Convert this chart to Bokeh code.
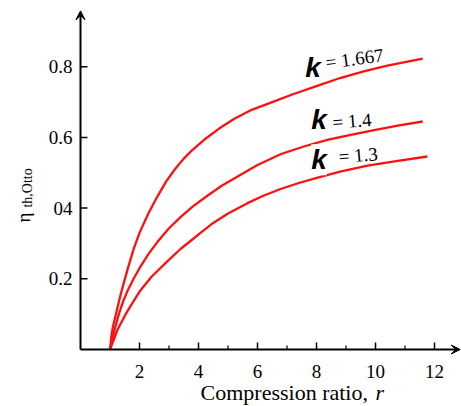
from bokeh.plotting import figure
from bokeh.models import Label, Arrow, VeeHead
from bokeh.core.properties import value
from bokeh.embed import file_html
from bokeh.resources import INLINE
import math

# Data
r_k1667 = [1.0, 1.05, 1.1, 1.2, 1.3, 1.4, 1.6, 1.8, 2.0, 2.3, 2.6, 2.9, 3.2, 3.5, 3.8, 4.2, 4.7,
           5.2, 5.8, 6.5, 7.2, 8.0, 8.8, 9.6, 10.4, 11.0, 11.6]
eta_k1667 = [0.0, 0.04, 0.065, 0.10, 0.135, 0.168, 0.228, 0.284, 0.33, 0.385, 0.432, 0.475, 0.51,
             0.54, 0.565, 0.594, 0.625, 0.652, 0.678, 0.70, 0.722, 0.745, 0.768, 0.787, 0.803,
             0.813, 0.823]

r_k14 = [1.0, 1.15, 1.3, 1.45, 1.6, 1.8, 2.0, 2.3, 2.64, 3.0, 3.4, 3.8, 4.3, 4.8, 5.4, 6.0,
         6.8, 7.6, 8.4, 9.2, 10.0, 10.8, 11.6]
eta_k14 = [0.0, 0.055, 0.10, 0.137, 0.167, 0.20, 0.23, 0.27, 0.308, 0.343, 0.375, 0.404, 0.435,
           0.464, 0.493, 0.522, 0.553, 0.575, 0.594, 0.608, 0.621, 0.634, 0.645]

r_k13 = [1.0, 1.25, 1.53, 1.8, 2.03, 2.4, 2.95, 3.4, 3.73, 4.1, 4.5, 5.0, 5.66, 6.2, 6.78,
         7.4, 8.07, 8.8, 9.73, 10.7, 11.76]
eta_k13 = [0.0, 0.055, 0.10, 0.137, 0.167, 0.205, 0.25, 0.285, 0.307, 0.332, 0.358, 0.385,
           0.414, 0.435, 0.454, 0.471, 0.487, 0.503, 0.52, 0.533, 0.546]

x_ticks = [2, 4, 6, 8, 10, 12]
x_minor = [3, 5, 7, 9, 11]
x_tick_labels = ["2", "4", "6", "8", "10", "12"]
y_ticks = [0.2, 0.4, 0.6, 0.8]
y_tick_labels = ["0.2", "04", "0.6", "0.8"]

SERIF = "'Liberation Serif', serif"

W, H = 461, 406
X0, X1 = -2.712, 12.915      # plot spans the whole canvas
Y0, Y1 = -0.1612, 0.9873
PX = W / (X1 - X0)           # pixels per x unit
PY = H / (Y1 - Y0)           # pixels per y unit

p = figure(width=W, height=H, output_backend="svg", toolbar_location=None,
           x_range=(X0, X1), y_range=(Y0, Y1),
           min_border=0, min_border_left=0, min_border_right=0,
           min_border_top=0, min_border_bottom=0)
p.axis.visible = False
p.outline_line_color = None
p.xgrid.visible = False
p.ygrid.visible = False
p.background_fill_color = "white"
p.border_fill_color = "white"

for xs, ys in [(r_k1667, eta_k1667), (r_k14, eta_k14), (r_k13, eta_k13)]:
    p.line(xs, ys, line_color="#ff1010", line_width=2.3, line_join="round")

# axis lines with arrow heads
p.add_layout(Arrow(end=VeeHead(size=9, fill_color="black", line_color="black"),
                   x_start=0, y_start=0, x_end=0, y_end=0.958,
                   line_color="black", line_width=2))
p.add_layout(Arrow(end=VeeHead(size=9, fill_color="black", line_color="black"),
                   x_start=0, y_start=0, x_end=12.87, y_end=0,
                   line_color="black", line_width=2))

# tick marks (pointing inwards)
p.segment(x0=x_ticks, y0=[0] * len(x_ticks), x1=x_ticks, y1=[7 / PY] * len(x_ticks),
          line_color="black", line_width=1.5)
p.segment(x0=x_minor, y0=[0] * len(x_minor), x1=x_minor, y1=[4 / PY] * len(x_minor),
          line_color="black", line_width=1.2)
p.segment(x0=[0] * len(y_ticks), y0=y_ticks, x1=[7 / PX] * len(y_ticks), y1=y_ticks,
          line_color="black", line_width=1.5)

# tick labels
p.text(x=x_ticks, y=-22 / PY, text=x_tick_labels, text_font=value(SERIF),
       text_font_size="19px", text_align="center", text_baseline="alphabetic",
       text_color="black")
p.text(x=-8 / PX, y=y_ticks, text=y_tick_labels, text_font=value(SERIF),
       text_font_size="19px", text_align="right", text_baseline="middle",
       text_color="black")

# axis titles
p.add_layout(Label(x=9.93, y=-43 / PY, text="Compression ratio, ", text_font=SERIF,
                   text_font_size="22px", text_align="right", text_baseline="alphabetic",
                   text_color="black"))
p.add_layout(Label(x=10.0, y=-43 / PY, text="r", text_font=SERIF, text_font_style="italic",
                   text_font_size="22px", text_align="left", text_baseline="alphabetic",
                   text_color="black"))
p.add_layout(Label(x=-57 / PX, y=127 / PY, text="η", text_font=SERIF, text_font_size="19px",
                   angle=math.pi / 2, text_align="left", text_baseline="alphabetic",
                   text_color="black"))
p.add_layout(Label(x=-53 / PX, y=142 / PY, text="th,Otto", text_font=SERIF,
                   text_font_size="14px", angle=math.pi / 2, text_align="left",
                   text_baseline="alphabetic", text_color="black"))

# curve labels
def klabel(xk, yk, xe, ye, txt, ang, bg=None):
    lk = Label(x=xk, y=yk, text="k", text_font="'Liberation Sans', sans-serif",
               text_font_style="bold italic",
               text_font_size="28px", text_baseline="alphabetic", text_color="black")
    if bg:
        lk.background_fill_color = bg
    p.add_layout(lk)
    p.add_layout(Label(x=xe, y=ye, text=txt, text_font=SERIF, text_font_size="19px",
                       angle=ang, text_baseline="alphabetic", text_color="black"))

klabel(7.62, 0.797, 8.31, 0.812, "= 1.667", 0.13)
klabel(7.82, 0.652, 8.54, 0.642, "= 1.4", 0.08)
klabel(7.82, 0.537, 8.75, 0.545, "= 1.3", 0.08, bg="white")

open("out.html", "w").write(file_html(p, INLINE))
